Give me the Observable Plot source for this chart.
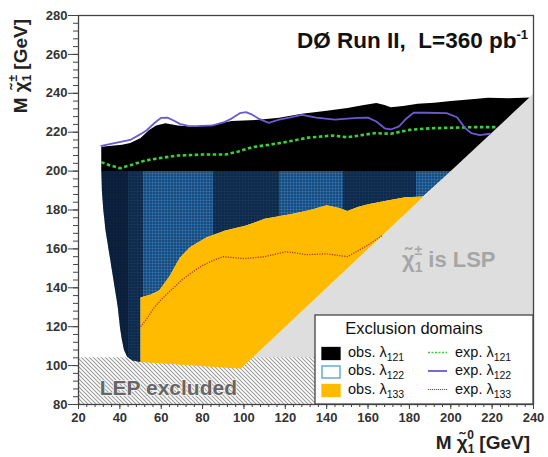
<!DOCTYPE html>
<html><head><meta charset="utf-8">
<script src="https://cdn.jsdelivr.net/npm/d3@7"></script>
<script src="https://cdn.jsdelivr.net/npm/@observablehq/plot@0.6"></script>
<style>body{margin:0;background:#fff} svg{display:block}</style>
</head><body><div id="chart"></div>
<script>
// ---- data (GeV) ----
const xTicks = d3.range(20, 241, 20);
const yTicks = d3.range(80, 281, 20);
const xMinor = d3.range(20, 241, 4);
const yMinor = d3.range(80, 281, 4);

const lspRegion = [[80, 80], [240, 240], [240, 80]];
const lepRegion = [{x1: 20, x2: 240, y1: 80, y2: 104}];

const obs121Top = [[31,212.5],[36,213],[41,213.5],[45,214.5],[50,217],[54,221],[57.5,223.4],[62,224.6],[68,223.5],[74,222.9],[85,223.8],[94,225.7],[100,226],[107,226.4],[117,227.4],[128,229.5],[140,231],[150,232.5],[158,234],[164,235],[168,234],[171,232.8],[177,233.5],[184,234.6],[192,235.2],[200,236],[210,237],[218,237.7],[228,237.5],[238,237.8]];
const obs121Bottom = [[200,200],[31,200]];
const obs122Left = [[31,200],[31.3,190],[32,180],[33,170],[34.5,160],[36,150],[37.5,140],[39,130],[40,120],[41,113],[42,108],[43.5,104.5],[46,102.6],[50,101.8]];
const obs133Top = [[50,135],[55,136.5],[59,138.6],[64,146],[69,155.5],[74,161],[82,166],[91,169.5],[101,172],[110,175.5],[123,178],[132,180],[140,182.5],[146,181],[150,179.5],[155,181.5],[160,183],[170,185],[178,186.5],[186.5,187]];
const obs133Bottom = [[50,101.8],[97,98.5]];
const obs133Right = [[98.5,98.5],[186.5,186.5]];
const blueBandEdges = [20, 44, 51, 85, 117, 148, 183, 240];

const exp121 = [[31,204.6],[35,203],[40,201.5],[46,203.3],[52,205.4],[60,206.8],[68,208],[80,208.5],[91,208.5],[97,210],[104,212.3],[112,213.5],[120,214.9],[131,217.2],[143,218.3],[150,217.4],[157,218.5],[163,219.5],[171,219.2],[180,221.2],[190,222],[200,222.3],[211,222.6],[222,222.6]];
const exp122 = [[31,213],[38,214.5],[45,216],[50,219],[53,221],[57,225],[60,227.4],[63,227.5],[66,226],[69,224.3],[73,223.3],[77,223.1],[85,223.5],[90,225],[94,227],[98,229.8],[101,230.3],[104,229],[107,227],[112,224.8],[117,226.5],[122,227.5],[128,228.9],[135,227.5],[144,226.5],[150,227],[155,227.4],[160,227.5],[164,225.5],[168,222],[171,221.4],[175,223],[178,226.5],[182,230],[188,230],[198,229.8],[203,227.7],[207,222],[210,219.5],[214,218.5],[219,219.2]];
const exp133 = [[50,120],[53,124],[56,129],[60,134],[65,139],[70,144],[75,148],[80,151.5],[85,154],[90,156],[95,155.5],[100,155],[110,156],[120,158.5],[125,158],[130,157],[140,157.5],[150,156],[155,159],[160,162],[167,167]];

const titleText = "DØ Run II,\u00a0 L=360 pb";
const legendTitle = "Exclusion domains";
const legendCouplings = ["121", "122", "133"];

// ---- polygons built from the arrays ----
const blackPoly = [...obs121Top, ...obs121Bottom];
const bluePoly = [...obs122Left, ...obs133Top, [200, 200]];
const yellowPoly = [...obs133Bottom, ...obs133Right, ...obs133Top.slice().reverse()];

const X = d => d[0], Y = d => d[1];
const FONT = "'Liberation Sans', Arial, Helvetica, sans-serif";

const chart = Plot.plot({
  width: 548, height: 457,
  marginLeft: 78, marginRight: 15, marginTop: 15, marginBottom: 53,
  style: {fontFamily: FONT, fontSize: "13px", fontWeight: "bold", color: "#333", background: "#fff"},
  x: {domain: [20, 240], label: null},
  y: {domain: [80, 280], label: null},
  marks: [
    Plot.line(lspRegion, {x: X, y: Y, fill: "#dedede", stroke: "none"}),
    Plot.rect(lepRegion, {x1: "x1", x2: "x2", y1: "y1", y2: "y2", fill: "url(#lepHatch)"}),
    Plot.line(bluePoly, {x: X, y: Y, fill: "url(#blueBands)", stroke: "none"}),
    Plot.line(bluePoly, {x: X, y: Y, fill: "url(#blueGrid)", stroke: "none"}),
    Plot.line(yellowPoly, {x: X, y: Y, fill: "#ffbb00", stroke: "none"}),
    Plot.line(blackPoly, {x: X, y: Y, fill: "#000", stroke: "none"}),
    Plot.line(exp133, {x: X, y: Y, stroke: "#b8332a", strokeWidth: 1.3, strokeDasharray: "1.2,1.3", strokeLinecap: "butt"}),
    Plot.line(exp121, {x: X, y: Y, stroke: "#3ccf3c", strokeWidth: 2.6, strokeDasharray: "3.5,2.5", strokeLinecap: "butt"}),
    Plot.line(exp122, {x: X, y: Y, stroke: "#6a5ad0", strokeWidth: 1.8}),
    Plot.frame({stroke: "#444", strokeWidth: 1.3}),
    Plot.axisX({ticks: xTicks, tickSize: 5, tickPadding: 3, label: null, stroke: "#444"}),
    Plot.axisX({ticks: xMinor, tickSize: 3, tickFormat: () => "", label: null, stroke: "#444"}),
    Plot.axisY({ticks: yTicks, tickSize: 10, tickPadding: 1, label: null, stroke: "#444"}),
    Plot.axisY({ticks: yMinor, tickSize: 5, tickFormat: () => "", label: null, stroke: "#444"})
  ]
});
document.getElementById("chart").append(chart);

// ---- decorations: patterns, annotation texts, legend ----
const NS = "http://www.w3.org/2000/svg";
function el(tag, attrs, parent) {
  const e = document.createElementNS(NS, tag);
  for (const k in attrs) e.setAttribute(k, attrs[k]);
  if (parent) parent.appendChild(e);
  return e;
}
function txt(parent, attrs, parts) {
  const t = el("text", Object.assign({"font-family": FONT, "text-anchor": "start", "font-weight": "bold"}, attrs), parent);
  for (const p of parts) {
    const [s, o] = typeof p === "string" ? [p, {}] : p;
    const sp = el("tspan", {}, t);
    if (o.dx != null) sp.setAttribute("dx", o.dx);
    if (o.dy != null) sp.setAttribute("dy", o.dy);
    if (o.size != null) sp.setAttribute("font-size", o.size);
    sp.textContent = s;
  }
  return t;
}
const sx = chart.scale("x"), sy = chart.scale("y");
const fx0 = sx.apply(20), fx1 = sx.apply(240), fy0 = sy.apply(280), fy1 = sy.apply(80);

const defs = el("defs", {});
chart.insertBefore(defs, chart.firstChild);
const hatch = el("pattern", {id: "lepHatch", patternUnits: "userSpaceOnUse", width: 4, height: 4}, defs);
el("rect", {width: 4, height: 4, fill: "#fff"}, hatch);
el("path", {d: "M-1,-1L5,5M3,-1L5,1M-1,3L1,5", stroke: "#9c9c9c", "stroke-width": 1.1}, hatch);

const grad = el("linearGradient", {id: "blueBands", gradientUnits: "userSpaceOnUse", x1: fx0, x2: fx1, y1: 0, y2: 0}, defs);
const shades = ["#0e2644", "#163a62", "#2e78bb", "#163a62", "#2e78bb", "#163a62", "#2e78bb"];
for (let i = 0; i < blueBandEdges.length - 1; i++) {
  const a = (blueBandEdges[i] - 20) / 220, b = (blueBandEdges[i + 1] - 20) / 220;
  el("stop", {offset: a, "stop-color": shades[i]}, grad);
  el("stop", {offset: b, "stop-color": shades[i]}, grad);
}
const grid = el("pattern", {id: "blueGrid", patternUnits: "userSpaceOnUse", width: 3, height: 3}, defs);
el("path", {d: "M0,0.5H3M0.5,0V3", stroke: "#06142a", "stroke-width": 1, "stroke-opacity": 0.5, fill: "none"}, grid);

const ann = el("g", {}, chart);
// title
txt(ann, {x: fx1 - 5, y: fy0 + 33, "text-anchor": "end", "font-size": 22.5, fill: "#111"},
  [titleText, ["-1", {dy: -9, size: 13}]]);
// chargino is LSP
txt(ann, {x: 402, y: sy.apply(150.5), "font-size": 22, fill: "#a6a6a6"},
  ["\u03c7\u0303", ["1", {dy: 5, size: 14}], ["\u00b1", {dx: -8, dy: -17, size: 14}], [" is LSP", {dy: 12}]]);
// LEP excluded
txt(ann, {x: sx.apply(30.5), y: sy.apply(84.8), "font-size": 21, fill: "#666",
  stroke: "#f4f4f4", "stroke-width": 1.5, "paint-order": "stroke"}, ["LEP excluded"]);
// axis titles
txt(ann, {transform: `translate(27,${fy0 + 4}) rotate(-90)`, "text-anchor": "end", "font-size": 19, fill: "#222"},
  ["M \u03c7\u0303", ["1", {dy: 4, size: 12}], ["\u00b1", {dx: -7, dy: -14, size: 12}], [" [GeV]", {dy: 10}]]);
txt(ann, {x: fx1 - 3, y: fy1 + 45, "text-anchor": "end", "font-size": 19, fill: "#222"},
  ["M \u03c7\u0303", ["1", {dy: 4, size: 12}], ["0", {dx: -7, dy: -14, size: 12}], [" [GeV]", {dy: 10}]]);

// legend
const lg = el("g", {}, chart);
const lx = fx1 - 218, ly = fy1 - 89;
el("rect", {x: lx, y: ly, width: fx1 - lx, height: fy1 - ly, fill: "#fff", stroke: "#444", "stroke-width": 1.3}, lg);
txt(lg, {x: lx + 99, y: ly + 19, "text-anchor": "middle", "font-size": 16.5, "font-weight": "normal", fill: "#111"}, [legendTitle]);
const sw = [{fill: "#000", stroke: "#000"}, {fill: "#fff", stroke: "#4aa0cc"}, {fill: "#ffbb00", stroke: "#ffbb00"}];
const ln = [{stroke: "#3ccf3c", dash: "2,1.5", w: 1.5}, {stroke: "#6a5ad0", dash: null, w: 1.8}, {stroke: "#b8332a", dash: "1,1", w: 1.2}];
legendCouplings.forEach((c, i) => {
  const ry = ly + 41.5 + i * 18.5;
  el("rect", {x: lx + 7, y: ry - 9, width: 18, height: 12, fill: sw[i].fill, stroke: sw[i].stroke, "stroke-width": 1.3}, lg);
  txt(lg, {x: lx + 33, y: ry, "font-size": 14.5, "font-weight": "normal", fill: "#111"}, ["obs. \u03bb", [c, {dy: 4, size: 10.5}]]);
  const line = el("line", {x1: lx + 113, x2: lx + 132, y1: ry - 4, y2: ry - 4, stroke: ln[i].stroke, "stroke-width": ln[i].w}, lg);
  if (ln[i].dash) line.setAttribute("stroke-dasharray", ln[i].dash);
  txt(lg, {x: lx + 140, y: ry, "font-size": 14.5, "font-weight": "normal", fill: "#111"}, ["exp. \u03bb", [c, {dy: 4, size: 10.5}]]);
});
</script></body></html>
